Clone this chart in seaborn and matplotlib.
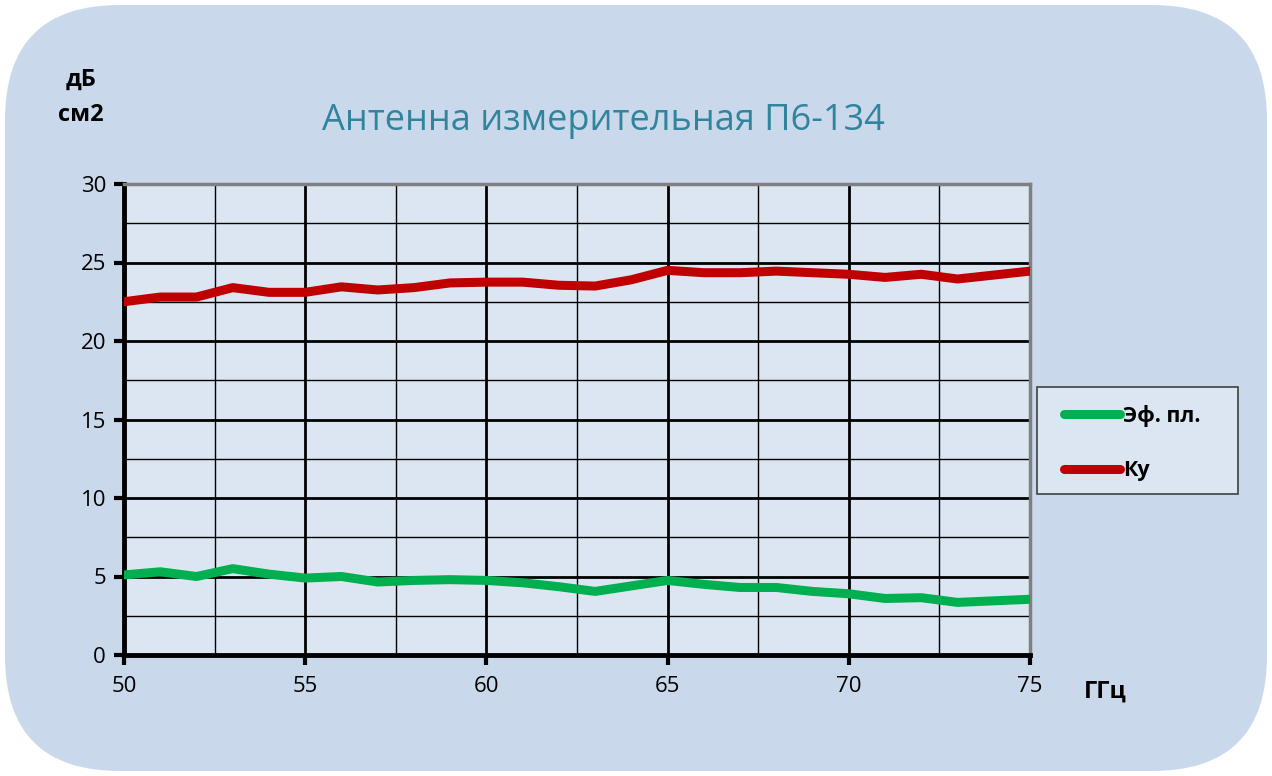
import pandas as pd
import numpy as np
import matplotlib
matplotlib.use("Agg")
import matplotlib.pyplot as plt
import seaborn as sns
from matplotlib.patches import FancyBboxPatch, Rectangle
from matplotlib.ticker import MultipleLocator

# ---------------------------------------------------------------------------
# Data
# ---------------------------------------------------------------------------
freq = list(range(50, 76))
ku = [22.5, 22.8, 22.8, 23.4, 23.1, 23.1, 23.45, 23.25, 23.4, 23.7,
      23.75, 23.75, 23.55, 23.5, 23.9, 24.5, 24.35, 24.35, 24.45, 24.35,
      24.25, 24.05, 24.25, 23.95, 24.2, 24.45]
eff_area = [5.1, 5.3, 5.0, 5.5, 5.15, 4.9, 5.0, 4.65, 4.75, 4.8,
            4.75, 4.6, 4.35, 4.05, 4.4, 4.75, 4.5, 4.3, 4.3, 4.05,
            3.9, 3.6, 3.65, 3.35, 3.45, 3.55]
series_names = ["Эф. пл.", "Ку"]
series_colors = {"Эф. пл.": "#00B050", "Ку": "#C00000"}

title = "Антенна измерительная П6-134"
y_unit_lines = ["дБ", "см2"]
x_unit = "ГГц"

df = pd.concat([
    pd.DataFrame({"freq": freq, "value": eff_area, "series": series_names[0]}),
    pd.DataFrame({"freq": freq, "value": ku, "series": series_names[1]}),
])

# ---------------------------------------------------------------------------
# Figure
# ---------------------------------------------------------------------------
sns.set_theme(style="white")
plt.rcParams["font.family"] = ["Open Sans", "DejaVu Sans"]
plt.rcParams["text.color"] = "black"
plt.rcParams["xtick.color"] = "black"
plt.rcParams["ytick.color"] = "black"

W, H = 1272, 776
fig = plt.figure(figsize=(W / 100, H / 100), dpi=100)
fig.patch.set_facecolor("white")

# rounded background panel
bg = FancyBboxPatch((0.05, 0.05), 12.62, 7.66,
                    boxstyle="round,pad=0,rounding_size=1.15",
                    transform=fig.dpi_scale_trans,
                    facecolor="#C9D9EB", edgecolor="none", zorder=-10)
fig.patches.append(bg)

ax = fig.add_axes([124 / W, 1 - 655 / H, (1030 - 124) / W, (655 - 184) / H])
ax.set_facecolor("#DCE6F2")

sns.lineplot(data=df, x="freq", y="value", hue="series", palette=series_colors,
             hue_order=series_names, linewidth=6.5, ax=ax, legend=False,
             solid_capstyle="round", solid_joinstyle="round", zorder=5)

ax.set_xlim(50, 75)
ax.set_ylim(0, 30)
ax.xaxis.set_major_locator(MultipleLocator(5))
ax.xaxis.set_minor_locator(MultipleLocator(2.5))
ax.yaxis.set_major_locator(MultipleLocator(5))
ax.yaxis.set_minor_locator(MultipleLocator(2.5))
ax.grid(which="major", color="black", linewidth=2)
ax.grid(which="minor", color="black", linewidth=1)
ax.set_axisbelow(True)

ax.tick_params(axis="both", which="major", direction="out", length=7, width=3,
               color="black", labelcolor="black", labelsize=16)
ax.tick_params(axis="both", which="minor", length=0)
ax.tick_params(axis="y", which="major", left=True, pad=6)
ax.tick_params(axis="x", which="major", bottom=True, pad=8)
for side in ["left", "bottom"]:
    ax.spines[side].set_color("black")
    ax.spines[side].set_linewidth(3.5)
for side in ["top", "right"]:
    ax.spines[side].set_color("#808080")
    ax.spines[side].set_linewidth(2.5)
ax.set_xlabel("")
ax.set_ylabel("")

fig.text(603 / W, 1 - 121 / H, title, color="#31849B", fontsize=26,
         ha="center", va="center")
fig.text(81 / W, 1 - 80 / H, y_unit_lines[0], fontsize=17, fontweight="bold",
         ha="center", va="center")
fig.text(81 / W, 1 - 115 / H, y_unit_lines[1], fontsize=17, fontweight="bold",
         ha="center", va="center")
fig.text(1105 / W, 1 - 692 / H, x_unit, fontsize=17, fontweight="bold",
         ha="center", va="center")

# legend box drawn separately, entries placed inside it
fig.patches.append(Rectangle((1037 / W, 1 - 494 / H), 201 / W, 107 / H,
                             transform=fig.transFigure, facecolor="#DCE6F2",
                             edgecolor="#404040", linewidth=1.2, zorder=1))
handles = [plt.Line2D([], [], color=series_colors[n], linewidth=6.5,
                      solid_capstyle="round") for n in series_names]
leg = fig.legend(handles, series_names, loc="upper left",
                 bbox_to_anchor=(1064 / W, 1 - 405 / H),
                 frameon=False,
                 prop={"weight": "bold", "size": 15.5},
                 handlelength=2.6, handletextpad=0.15, labelspacing=1.55,
                 borderpad=0, borderaxespad=0)
leg.set_zorder(2)
for t in leg.get_texts():
    t.set_color("black")

fig.savefig("out.png", dpi=100)
